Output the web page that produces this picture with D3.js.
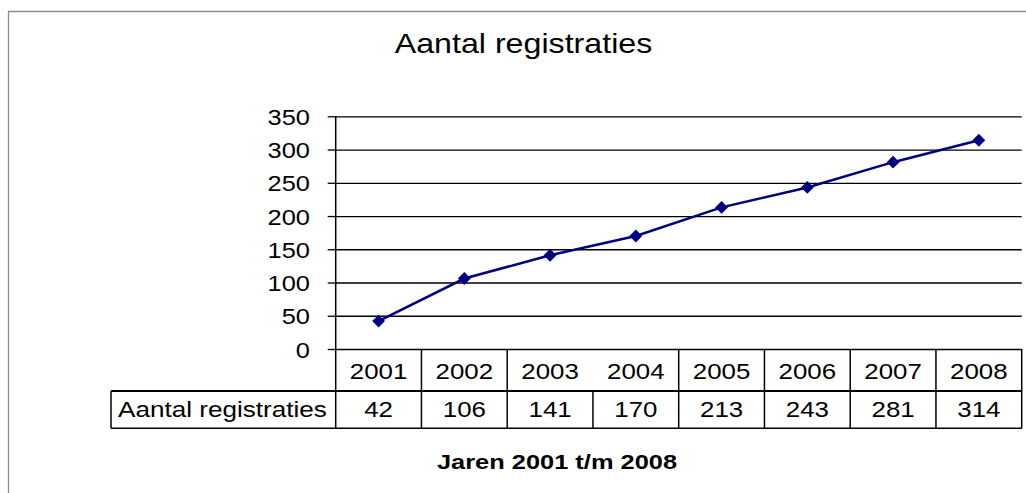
<!DOCTYPE html>
<html>
<head>
<meta charset="utf-8">
<script src="https://cdn.jsdelivr.net/npm/d3@7"></script>
<style>
  html, body { margin: 0; padding: 0; background: #fff; }
  svg { display: block; font-family: "Liberation Sans", Arial, sans-serif; }
</style>
</head>
<body>
<svg id="chart" width="1026" height="493"></svg>
<script>
// ---- data ----
const years = ["2001", "2002", "2003", "2004", "2005", "2006", "2007", "2008"];
const registraties = [42, 106, 141, 170, 213, 243, 281, 314];
const yTicks = [0, 50, 100, 150, 200, 250, 300, 350];
const seriesName = "Aantal registraties";
const chartTitle = "Aantal registraties";
const xTitle = "Jaren 2001 t/m 2008";

// ---- layout ----
const svg = d3.select("#chart");
const plotLeft = 335.7, plotRight = 1021.7, plotTop = 116.3, plotBottom = 349;
const row1Bottom = 391, row2Bottom = 428.3, tableLeft = 111;
const sx = 1.15;
const lineColor = "#000";
const navy = "#000080";

const x = d3.scaleBand().domain(years).range([plotLeft, plotRight]).paddingInner(0).paddingOuter(0);
const y = d3.scaleLinear().domain([0, 350]).range([plotBottom, plotTop]);

// outer border (gray)
svg.append("path")
  .attr("d", "M8.5,493 L8.5,11.5 L1026,11.5")
  .attr("fill", "none").attr("stroke", "#8c8c8c").attr("stroke-width", 1.3);

// title
svg.append("text")
  .attr("transform", "translate(523.5,53) scale(1.13,1)")
  .attr("text-anchor", "middle")
  .attr("font-size", 28.5)
  .attr("fill", "#000")
  .text(chartTitle);

// gridlines
const grid = svg.append("g").attr("transform", `translate(${plotLeft},0)`)
  .call(d3.axisLeft(y).tickValues(yTicks).tickSize(-(plotRight - plotLeft)).tickFormat(""));
grid.select(".domain").remove();
grid.selectAll("line").attr("stroke", lineColor).attr("stroke-width", 1.3);

// y axis with ticks + labels
const yAxis = svg.append("g").attr("transform", `translate(${plotLeft},0)`)
  .call(d3.axisLeft(y).tickValues(yTicks).tickSize(8));
yAxis.select(".domain").remove();
yAxis.selectAll("line").attr("stroke", lineColor).attr("stroke-width", 1.3);
yAxis.selectAll("text")
  .attr("x", 0).attr("dy", "0.36em")
  .attr("transform", "translate(-25.7,0) scale(1.13,1)")
  .attr("font-size", 22.5).attr("font-family", "Liberation Sans, Arial, sans-serif")
  .attr("fill", "#000");

// vertical axis line (down through row 1 of the table)
svg.append("line")
  .attr("x1", plotLeft).attr("x2", plotLeft)
  .attr("y1", y(350)).attr("y2", row2Bottom)
  .attr("stroke", lineColor).attr("stroke-width", 1.5);

// ---- data table ----
const tbl = svg.append("g");
tbl.append("line").attr("x1", tableLeft).attr("x2", plotRight)
  .attr("y1", row1Bottom).attr("y2", row1Bottom)
  .attr("stroke", lineColor).attr("stroke-width", 2);
tbl.append("line").attr("x1", tableLeft).attr("x2", plotRight)
  .attr("y1", row2Bottom).attr("y2", row2Bottom)
  .attr("stroke", lineColor).attr("stroke-width", 1.5);
tbl.append("line").attr("x1", tableLeft).attr("x2", tableLeft)
  .attr("y1", row1Bottom).attr("y2", row2Bottom)
  .attr("stroke", lineColor).attr("stroke-width", 1.5);

// column separators (right edge of each band)
tbl.selectAll("line.col1").data(years).enter().append("line")
  .attr("class", "col1")
  .attr("x1", d => x(d) + x.bandwidth()).attr("x2", d => x(d) + x.bandwidth())
  .attr("y1", d => (d === "2003") ? row1Bottom : plotBottom)
  .attr("y2", row2Bottom)
  .attr("stroke", lineColor).attr("stroke-width", 1.5);

// year labels
tbl.selectAll("text.year").data(years).enter().append("text")
  .attr("class", "year")
  .attr("transform", d => `translate(${x(d) + x.bandwidth() / 2},378.5) scale(${sx},1)`)
  .attr("text-anchor", "middle").attr("font-size", 22.5).attr("fill", "#000")
  .text(d => d);

// values
tbl.selectAll("text.val").data(registraties).enter().append("text")
  .attr("class", "val")
  .attr("transform", (d, i) => `translate(${x(years[i]) + x.bandwidth() / 2},417) scale(${sx},1)`)
  .attr("text-anchor", "middle").attr("font-size", 22.5).attr("fill", "#000")
  .text(d => d);

// row label
tbl.append("text")
  .attr("transform", `translate(118,417) scale(1.16,1)`)
  .attr("font-size", 22.5).attr("fill", "#000")
  .text(seriesName);

// x title
svg.append("text")
  .attr("transform", "translate(557,469) scale(1.21,1)")
  .attr("text-anchor", "middle")
  .attr("font-size", 21).attr("font-weight", "bold").attr("fill", "#000")
  .text(xTitle);

// ---- series line ----
const pts = years.map((yr, i) => ({ yr, v: registraties[i] }));
const line = d3.line().x(d => x(d.yr) + x.bandwidth() / 2).y(d => y(d.v));
svg.append("path").datum(pts)
  .attr("d", line)
  .attr("fill", "none").attr("stroke", navy).attr("stroke-width", 2.5);

const diamond = d3.symbol().type(d3.symbolDiamond2).size(105);
svg.selectAll("path.mk").data(pts).enter().append("path")
  .attr("class", "mk")
  .attr("d", diamond)
  .attr("transform", d => `translate(${x(d.yr) + x.bandwidth() / 2},${y(d.v)})`)
  .attr("fill", navy);
</script>
</body>
</html>
